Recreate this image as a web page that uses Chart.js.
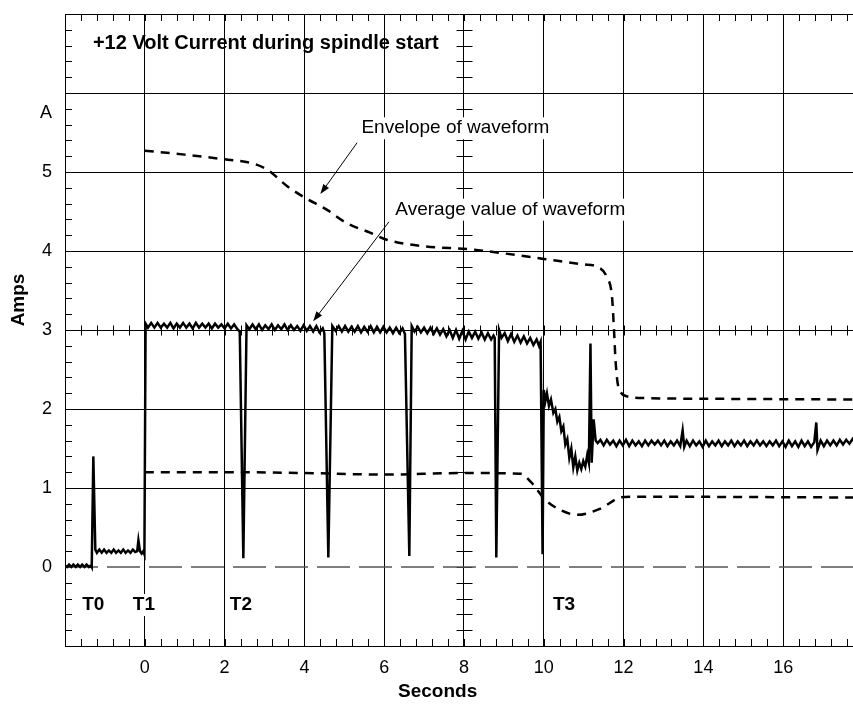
<!DOCTYPE html>
<html>
<head>
<meta charset="utf-8">
<script src="https://cdn.jsdelivr.net/npm/chart.js@4.4.1/dist/chart.umd.min.js"></script>
<style>
  html, body { margin: 0; padding: 0; background: #fff; }
  canvas { display: block; }
</style>
</head>
<body>
<canvas id="grafico" width="853" height="705"></canvas>
<script>
// ejes
const xTicks = [-2, 0, 2, 4, 6, 8, 10, 12, 14, 16];
const yTicks = [-1, 0, 1, 2, 3, 4, 5, 5.75, 6, 7];
const unitTick = 5.75; // donde va la "A"

// corriente antes del arranque (s, A)
const idleTrace = [
  [-2.0, 0.02], [-1.95, 0.0], [-1.9, 0.03], [-1.84, 0.0], [-1.79, 0.03], [-1.73, 0.0],
  [-1.68, 0.03], [-1.62, 0.0], [-1.57, 0.03], [-1.51, 0.0], [-1.46, 0.03], [-1.40, 0.0],
  [-1.35, 0.02], [-1.33, 0.0], [-1.29, 1.40], [-1.24, 0.22],
  [-1.2, 0.18], [-1.14, 0.22], [-1.08, 0.18], [-1.02, 0.22], [-0.96, 0.18], [-0.9, 0.21],
  [-0.84, 0.18], [-0.78, 0.22], [-0.72, 0.18], [-0.66, 0.21], [-0.6, 0.18], [-0.54, 0.22],
  [-0.48, 0.18], [-0.42, 0.21], [-0.36, 0.18], [-0.3, 0.22], [-0.24, 0.19], [-0.19, 0.2],
  [-0.16, 0.34], [-0.12, 0.2], [-0.08, 0.17], [-0.04, 0.2], [-0.01, 0.16]
];

// corriente durante la aceleracion del spindle
const runTrace = [
  [0.02, 3.08], [0.08, 3.03], [0.16, 3.09], [0.24, 3.03], [0.32, 3.09], [0.40, 3.03], [0.48, 3.08],
  [0.56, 3.03], [0.64, 3.09], [0.72, 3.02], [0.80, 3.08], [0.88, 3.03], [0.96, 3.09], [1.04, 3.03],
  [1.12, 3.08], [1.20, 3.02], [1.28, 3.09], [1.36, 3.03], [1.44, 3.08], [1.52, 3.03], [1.60, 3.08],
  [1.68, 3.02], [1.76, 3.08], [1.84, 3.03], [1.92, 3.07], [2.00, 3.02], [2.08, 3.08], [2.16, 3.02],
  [2.24, 3.07], [2.32, 3.01], [2.38, 2.98], [2.47, 0.11], [2.55, 3.06],
  [2.62, 3.01], [2.70, 3.07], [2.78, 3.01], [2.86, 3.07], [2.94, 3.0], [3.02, 3.06], [3.10, 3.01],
  [3.18, 3.07], [3.26, 3.0], [3.34, 3.06], [3.42, 3.01], [3.50, 3.07], [3.58, 3.0], [3.66, 3.06],
  [3.74, 3.0], [3.82, 3.05], [3.90, 2.99], [3.98, 3.06], [4.06, 2.99], [4.14, 3.05], [4.22, 2.98],
  [4.30, 3.05], [4.38, 2.97], [4.46, 3.02], [4.50, 2.96], [4.60, 0.12], [4.70, 3.05],
  [4.78, 2.99], [4.86, 3.05], [4.94, 2.98], [5.02, 3.05], [5.10, 2.98], [5.18, 3.04], [5.26, 2.98],
  [5.34, 3.05], [5.42, 2.97], [5.50, 3.04], [5.58, 2.98], [5.66, 3.05], [5.74, 2.97], [5.82, 3.04],
  [5.90, 2.97], [5.98, 3.04], [6.06, 2.97], [6.14, 3.03], [6.22, 2.96], [6.30, 3.03], [6.38, 2.96],
  [6.46, 3.02], [6.52, 2.95], [6.63, 0.14], [6.69, 3.05],
  [6.76, 2.98], [6.84, 3.04], [6.92, 2.97], [7.00, 3.03], [7.08, 2.96], [7.16, 3.03], [7.24, 2.95],
  [7.32, 3.02], [7.40, 2.94], [7.48, 3.01], [7.56, 2.92], [7.64, 3.0], [7.72, 2.9], [7.80, 3.0],
  [7.88, 2.89], [7.96, 2.99], [8.04, 2.88], [8.12, 2.98], [8.20, 2.9], [8.28, 2.98], [8.36, 2.89],
  [8.44, 2.97], [8.52, 2.88], [8.60, 2.96], [8.68, 2.88], [8.74, 2.93], [8.77, 2.9], [8.81, 0.12],
  [8.88, 3.0], [8.94, 2.9], [9.02, 2.96], [9.10, 2.86], [9.18, 2.95], [9.26, 2.85], [9.34, 2.93],
  [9.42, 2.84], [9.50, 2.92], [9.58, 2.83], [9.66, 2.9], [9.74, 2.81], [9.82, 2.88], [9.88, 2.8],
  [9.92, 2.85], [9.97, 0.16], [10.0, 2.24]
];

// caida y estabilizacion
const settleTrace = [
  [10.04, 2.1], [10.08, 2.2], [10.13, 2.04], [10.18, 2.12], [10.24, 1.95], [10.29, 2.0], [10.34, 1.84],
  [10.39, 1.9], [10.44, 1.72], [10.49, 1.78], [10.54, 1.55], [10.59, 1.62], [10.64, 1.38], [10.69, 1.5],
  [10.74, 1.26], [10.79, 1.4], [10.84, 1.22], [10.89, 1.32], [10.94, 1.24], [10.99, 1.34], [11.04, 1.27],
  [11.09, 1.42], [11.13, 1.32], [11.17, 2.83], [11.2, 1.32], [11.25, 1.87], [11.3, 1.6], [11.35, 1.57],
  [11.42, 1.61], [11.5, 1.54], [11.58, 1.61], [11.66, 1.55], [11.74, 1.6], [11.82, 1.53], [11.9, 1.6],
  [11.98, 1.54], [12.06, 1.61], [12.14, 1.53], [12.22, 1.6], [12.3, 1.54], [12.38, 1.59], [12.46, 1.53],
  [12.54, 1.6], [12.62, 1.54], [12.7, 1.6], [12.78, 1.55], [12.86, 1.6], [12.94, 1.54], [13.02, 1.6],
  [13.1, 1.53], [13.18, 1.59], [13.26, 1.54], [13.34, 1.6], [13.42, 1.53], [13.48, 1.73], [13.52, 1.52],
  [13.58, 1.6], [13.66, 1.53], [13.74, 1.6], [13.82, 1.54], [13.9, 1.59], [13.98, 1.52], [14.06, 1.6],
  [14.14, 1.53], [14.22, 1.59], [14.3, 1.54], [14.38, 1.6], [14.46, 1.53], [14.54, 1.59], [14.62, 1.54],
  [14.7, 1.6], [14.78, 1.53], [14.86, 1.59], [14.94, 1.54], [15.02, 1.6], [15.1, 1.53], [15.18, 1.59],
  [15.26, 1.54], [15.34, 1.6], [15.42, 1.54], [15.5, 1.59], [15.58, 1.53], [15.66, 1.59], [15.74, 1.54],
  [15.82, 1.6], [15.9, 1.53], [15.98, 1.59], [16.06, 1.52], [16.14, 1.6], [16.22, 1.53], [16.3, 1.59],
  [16.38, 1.52], [16.46, 1.6], [16.54, 1.53], [16.62, 1.59], [16.7, 1.52], [16.78, 1.58], [16.83, 1.83],
  [16.86, 1.48], [16.94, 1.6], [17.02, 1.53], [17.1, 1.6], [17.18, 1.54], [17.26, 1.6], [17.34, 1.54],
  [17.42, 1.61], [17.5, 1.55], [17.58, 1.61], [17.66, 1.56], [17.74, 1.62], [17.8, 1.58]
];

// envolvente de la forma de onda
const envelopeTrace = [
  [0, 5.27], [1, 5.22], [2, 5.16], [2.7, 5.11], [3.07, 5.03], [3.57, 4.82], [4.03, 4.67], [4.57, 4.52],
  [5.07, 4.35], [5.66, 4.23], [6.08, 4.14], [7.0, 4.06], [8.2, 4.02], [9.0, 3.97], [10.0, 3.9],
  [11.0, 3.83], [11.34, 3.8], [11.59, 3.66], [11.71, 3.42], [11.76, 3.0], [11.8, 2.6], [11.87, 2.28],
  [12.09, 2.16], [12.42, 2.14], [14, 2.13], [17.8, 2.12]
];

// valor promedio
const averageTrace = [
  [0, 1.2], [2, 1.2], [4, 1.19], [6, 1.17], [8, 1.19], [9.42, 1.18], [9.67, 1.08], [10.04, 0.85],
  [10.42, 0.72], [10.84, 0.66], [11.42, 0.74], [11.92, 0.88], [12.2, 0.89], [17.8, 0.88]
];

const zeroLine = [[-2, 0], [17.8, 0]];

const FONT = '"Liberation Sans", Arial, Helvetica, sans-serif';
const toXY = arr => arr.map(p => ({ x: p[0], y: p[1] }));

// retícula tipo osciloscopio + textos
const reticula = {
  id: 'reticula',
  beforeDatasetsDraw(chart) {
    const { ctx, chartArea: a, scales: { x, y } } = chart;
    ctx.save();
    ctx.strokeStyle = '#000';
    ctx.lineWidth = 1;
    ctx.beginPath();
    const cy = Math.round(y.getPixelForValue(3)) + 0.5;
    const cx = Math.round(x.getPixelForValue(8)) + 0.5;
    for (let i = 1; i < 50; i++) {
      const v = -2 + i * 0.4;
      if (v > 17.7) break;
      const px = Math.round(x.getPixelForValue(v)) + 0.5;
      ctx.moveTo(px, a.top); ctx.lineTo(px, a.top + 7);
      ctx.moveTo(px, a.bottom); ctx.lineTo(px, a.bottom - 7);
      ctx.moveTo(px, cy - 5); ctx.lineTo(px, cy + 5);
    }
    for (let i = 1; i < 40; i++) {
      const v = -1 + i * 0.2;
      const py = Math.round(y.getPixelForValue(v)) + 0.5;
      ctx.moveTo(a.left, py); ctx.lineTo(a.left + 7, py);
      ctx.moveTo(cx - 8, py); ctx.lineTo(cx + 8, py);
    }
    ctx.stroke();
    ctx.restore();
  },
  afterDatasetsDraw(chart) {
    const { ctx, scales: { x, y } } = chart;
    ctx.save();
    ctx.fillStyle = '#000';
    ctx.textBaseline = 'alphabetic';
    ctx.textAlign = 'left';

    const label = (txt, vx, vy, font, bg) => {
      ctx.font = font;
      const px = x.getPixelForValue(vx), py = y.getPixelForValue(vy);
      if (bg) {
        const w = ctx.measureText(txt).width;
        ctx.fillStyle = '#fff';
        ctx.fillRect(px - 3, py - 16, w + 6, 22);
        ctx.fillStyle = '#000';
      }
      ctx.fillText(txt, px, py);
    };
    const arrow = (x0, y0, x1, y1) => {
      const ax = x.getPixelForValue(x0), ay = y.getPixelForValue(y0);
      const bx = x.getPixelForValue(x1), by = y.getPixelForValue(y1);
      const ang = Math.atan2(by - ay, bx - ax);
      ctx.strokeStyle = '#000';
      ctx.lineWidth = 1;
      ctx.beginPath();
      ctx.moveTo(ax, ay);
      ctx.lineTo(bx - 6 * Math.cos(ang), by - 6 * Math.sin(ang));
      ctx.stroke();
      ctx.beginPath();
      ctx.moveTo(bx, by);
      ctx.lineTo(bx - 10 * Math.cos(ang) + 3.5 * Math.sin(ang), by - 10 * Math.sin(ang) - 3.5 * Math.cos(ang));
      ctx.lineTo(bx - 10 * Math.cos(ang) - 3.5 * Math.sin(ang), by - 10 * Math.sin(ang) + 3.5 * Math.cos(ang));
      ctx.closePath();
      ctx.fill();
    };

    label('+12 Volt Current during spindle start', -1.3, 6.56, 'bold 20px ' + FONT, false);
    label('Envelope of waveform', 5.43, 5.49, '19px ' + FONT, true);
    label('Average value of waveform', 6.28, 4.46, '19px ' + FONT, true);
    arrow(5.32, 5.37, 4.4, 4.72);
    arrow(6.12, 4.37, 4.22, 3.11);

    label('T0', -1.57, -0.545, 'bold 19px ' + FONT, true);
    label('T1', -0.3, -0.545, 'bold 19px ' + FONT, true);
    label('T2', 2.13, -0.545, 'bold 19px ' + FONT, true);
    label('T3', 10.23, -0.545, 'bold 19px ' + FONT, true);

    // titulos de ejes
    ctx.font = 'bold 19px ' + FONT;
    ctx.textAlign = 'center';
    ctx.fillText('Seconds', x.getPixelForValue(7.34), 697);
    ctx.translate(24, y.getPixelForValue(3.38));
    ctx.rotate(-Math.PI / 2);
    ctx.fillText('Amps', 0, 0);
    ctx.restore();
  }
};

new Chart(document.getElementById('grafico'), {
  type: 'line',
  data: {
    datasets: [
      {
        label: 'Current',
        data: toXY(idleTrace.concat(runTrace, settleTrace)),
        borderColor: '#000',
        borderWidth: 2.5,
        pointRadius: 0,
        tension: 0,
        borderJoinStyle: 'miter'
      },
      {
        label: 'Envelope of waveform',
        data: toXY(envelopeTrace),
        borderColor: '#000',
        borderWidth: 2.5,
        borderDash: [9, 7],
        pointRadius: 0,
        cubicInterpolationMode: 'monotone'
      },
      {
        label: 'Average value of waveform',
        data: toXY(averageTrace),
        borderColor: '#000',
        borderWidth: 2.5,
        borderDash: [9, 7],
        pointRadius: 0,
        cubicInterpolationMode: 'monotone'
      },
      {
        label: 'Zero',
        data: toXY(zeroLine),
        borderColor: '#555',
        borderWidth: 1.5,
        borderDash: [33, 9],
        pointRadius: 0
      }
    ]
  },
  options: {
    responsive: false,
    animation: false,
    events: [],
    layout: { padding: { top: 14, right: 0, bottom: 0, left: 0 } },
    plugins: {
      legend: { display: false },
      tooltip: { enabled: false }
    },
    scales: {
      x: {
        type: 'linear',
        min: -2,
        max: 17.75,
        afterBuildTicks: s => { s.ticks = xTicks.map(v => ({ value: v })); },
        afterFit: s => { s.height = 59; s.paddingLeft = 0; s.paddingRight = 0; },
        ticks: {
          callback: v => (v === -2 ? '' : v),
          color: '#000',
          font: { family: FONT, size: 18 },
          padding: 11,
          maxRotation: 0,
          autoSkip: false
        },
        grid: { color: '#000', lineWidth: 1, drawTicks: false },
        border: { color: '#000', width: 1 }
      },
      y: {
        type: 'linear',
        min: -1,
        max: 7,
        afterBuildTicks: s => { s.ticks = yTicks.map(v => ({ value: v })); },
        afterFit: s => { s.width = 65; s.paddingTop = 0; s.paddingBottom = 0; },
        ticks: {
          callback: v => (v === unitTick ? 'A' : (v < 0 || v > 5 ? '' : v)),
          color: '#000',
          font: { family: FONT, size: 18 },
          padding: 13
        },
        grid: {
          color: c => (c.tick && (c.tick.value === 0 || c.tick.value === unitTick) ? 'rgba(0,0,0,0)' : '#000'),
          lineWidth: 1,
          drawTicks: false
        },
        border: { color: '#000', width: 1 }
      }
    }
  },
  plugins: [reticula]
});
</script>
</body>
</html>
